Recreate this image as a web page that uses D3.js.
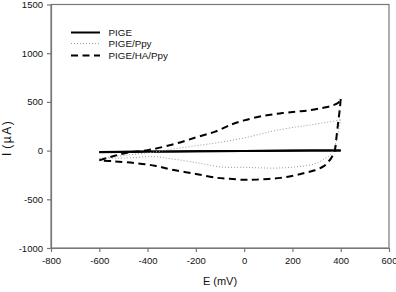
<!DOCTYPE html>
<html><head><meta charset="utf-8">
<script src="https://cdn.jsdelivr.net/npm/d3@7"></script>
<style>body{margin:0;background:#fff}svg{display:block}text{font-family:"Liberation Sans",Arial,sans-serif}</style>
</head><body><svg id="c" width="396" height="292"></svg>
<script>
const xTicks = [-800,-600,-400,-200,0,200,400,600];
const yTicks = [-1000,-500,0,500,1000,1500];
const seriesNames = ["PIGE","PIGE/Ppy","PIGE/HA/Ppy"];
// PIGE (bare electrode)
const pigeE = [-600,-300,0,200,400,200,0,-300,-600];
const pigeI = [-14,-8,-3,0,2,-1,-4,-10,-16];
// PIGE/Ppy
const ppyE = [-600,-480,-370,-300,-200,-100,0,76,127,214,265,330,389,400,395,385,370,355,334,300,265,200,127,50,0,-100,-183,-300,-370,-480,-600];
const ppyI = [-80,-45,-14,15,50,85,130,175,205,242,260,285,311,318,250,120,20,-48,-82,-130,-151,-170,-180,-176,-172,-168,-130,-85,-62,-75,-80];
// PIGE/HA/Ppy
const haE = [-600,-540,-480,-400,-300,-200,-120,-50,0,76,148,214,265,325,360,390,400,396,390,383,375,360,348,330,293,250,210,150,50,0,-60,-110,-200,-300,-370,-450,-540,-600];
const haI = [-100,-55,-20,5,60,135,195,270,310,355,382,400,412,438,458,492,530,420,300,150,0,-80,-117,-160,-202,-230,-254,-280,-298,-300,-290,-280,-240,-195,-155,-128,-110,-100];

const W=396,H=292,m={l:51,r:7,t:4.5,b:44};
const svg=d3.select("#c");
const x=d3.scaleLinear().domain([-800,600]).range([m.l,W-m.r]);
const y=d3.scaleLinear().domain([-1000,1500]).range([H-m.b,m.t]);
const axisCol="#777";

// frame
svg.append("rect").attr("x",m.l).attr("y",m.t).attr("width",W-m.r-m.l).attr("height",H-m.b-m.t)
  .attr("fill","none").attr("stroke",axisCol).attr("stroke-width",1.2);

const fmt=d=>String(d);
const gx=svg.append("g").attr("transform",`translate(0,${H-m.b})`)
  .call(d3.axisBottom(x).tickValues(xTicks).tickFormat(fmt).tickSize(4).tickSizeOuter(0).tickPadding(3));
const gy=svg.append("g").attr("transform",`translate(${m.l},0)`)
  .call(d3.axisLeft(y).tickValues(yTicks).tickFormat(fmt).tickSize(4).tickSizeOuter(0).tickPadding(4));
[gx,gy].forEach(g=>{
  g.selectAll("path,line").attr("stroke",axisCol).attr("stroke-width",1.2);
  g.selectAll("text").attr("font-size","9.5px").attr("fill","#111").attr("font-family",'"Liberation Sans",Arial,sans-serif');
});
gx.selectAll("text").attr("dy","0.9em");

svg.append("text").attr("x",(m.l+W-m.r)/2).attr("y",285).attr("text-anchor","middle")
  .attr("font-size","11px").attr("fill","#111").text("E (mV)");
const yl=svg.append("text").attr("transform","translate(11,156) rotate(-90)").attr("font-size","12px").attr("fill","#111");
yl.append("tspan").text("I");
yl.append("tspan").attr("dx",4).attr("letter-spacing","1.5px").text("(µA)");

function splitBranches(E,I){
  const pts=E.map((e,i)=>[e,I[i]]);
  let k=E.indexOf(d3.max(E));
  return [pts.slice(0,k+1),pts.slice(k)];
}
const line=d3.line().x(d=>x(d[0])).y(d=>y(d[1])).curve(d3.curveCatmullRom.alpha(0.5));
const styles=[
  {stroke:"#000",w:2,dash:null},
  {stroke:"#9a9a9a",w:1,dash:"1,2"},
  {stroke:"#000",w:2,dash:"7,4.5"}
];
const data=[[pigeE,pigeI],[ppyE,ppyI],[haE,haI]];
data.forEach((d,i)=>{
  const st=styles[i];
  splitBranches(d[0],d[1]).forEach(br=>{
    svg.append("path").attr("d",line(br)).attr("fill","none").attr("stroke",st.stroke)
      .attr("stroke-width",st.w).attr("stroke-dasharray",st.dash);
  });
});

// legend
const ly=[32.5,43.5,55.5];
seriesNames.forEach((n,i)=>{
  const st=styles[i];
  svg.append("line").attr("x1",71).attr("x2",100).attr("y1",ly[i]).attr("y2",ly[i])
    .attr("stroke",st.stroke).attr("stroke-width",st.w).attr("stroke-dasharray",st.dash);
  svg.append("text").attr("x",108.5).attr("y",ly[i]+3.5).attr("font-size","9.8px").attr("fill","#111").text(n);
});
</script></body></html>
